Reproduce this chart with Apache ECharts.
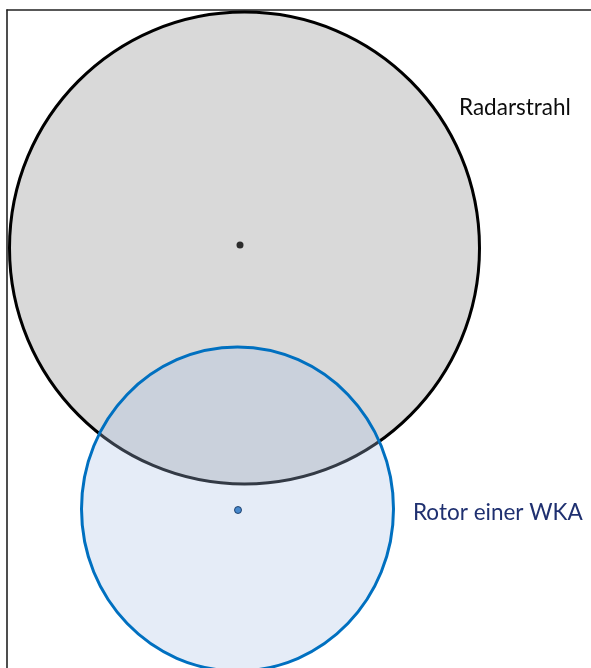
<!DOCTYPE html>
<html>
<head>
<meta charset="utf-8">
<script src="https://cdn.jsdelivr.net/npm/echarts@6/dist/echarts.min.js"></script>
<style>
  html, body { margin: 0; padding: 0; background: #fff; }
  #chart { width: 591px; height: 668px; }
</style>
</head>
<body>
<div id="chart"></div>
<script>
// Kreise: Radarstrahl und Rotor (Koordinaten im Bildmaßstab)
var shapeNames = ['Radarstrahl', 'Rotor einer WKA'];
var centerX = [244.5, 237.5];
var centerY = [248, 509];
var radiusX = [235, 156];
var radiusY = [236, 162];

// Mittelpunkte
var dotX = [240, 238];
var dotY = [245, 510];

// Beschriftungen
var labelX = [459, 413];
var labelY = [108, 513];

var fills = ['#d9d9d9', 'rgba(168,192,228,0.3)'];
var strokes = ['#000000', '#0070c0'];
var textColors = ['#0d0d0d', '#1f3070'];
var dotColors = ['#000000', '#1f6fc0'];

var chart = echarts.init(document.getElementById('chart'));

var shapeData = [];
for (var i = 0; i < shapeNames.length; i++) {
    shapeData.push([centerX[i], centerY[i], radiusX[i], radiusY[i]]);
}
var dotData = [];
for (var i = 0; i < dotX.length; i++) {
    dotData.push({ value: [dotX[i], dotY[i]], itemStyle: { color: dotColors[i], borderColor: i ? '#0a2a55' : '#000', borderWidth: i ? 1 : 0 } });
}
var labelData = [];
for (var i = 0; i < shapeNames.length; i++) {
    labelData.push([labelX[i], labelY[i], shapeNames[i]]);
}

var option = {
    animation: false,
    grid: { left: 7, top: 10, right: 0, bottom: 0 },
    xAxis: {
        type: 'value', min: 7, max: 591, position: 'top',
        axisLine: { show: true, onZero: false, lineStyle: { color: '#222', width: 1.6 } },
        axisTick: { show: false }, axisLabel: { show: false }, splitLine: { show: false }
    },
    yAxis: {
        type: 'value', min: 10, max: 668, inverse: true,
        axisLine: { show: true, onZero: false, lineStyle: { color: '#222', width: 1.6 } },
        axisTick: { show: false }, axisLabel: { show: false }, splitLine: { show: false }
    },
    series: [
        {
            type: 'custom',
            data: shapeData,
            clip: false,
            renderItem: function (params, api) {
                var c = api.coord([api.value(0), api.value(1)]);
                var s = api.size([api.value(2), api.value(3)]);
                var idx = params.dataIndex;
                return {
                    type: 'ellipse',
                    shape: { cx: c[0], cy: c[1], rx: s[0], ry: s[1] },
                    style: { fill: fills[idx], stroke: strokes[idx], lineWidth: 3 }
                };
            },
            z: 2
        },
        {
            type: 'scatter',
            data: dotData,
            symbolSize: 7,
            z: 3
        },
        {
            type: 'custom',
            data: labelData,
            clip: false,
            renderItem: function (params, api) {
                var c = api.coord([api.value(0), api.value(1)]);
                var idx = params.dataIndex;
                return {
                    type: 'text',
                    x: c[0], y: c[1],
                    style: {
                        text: shapeNames[idx],
                        fill: textColors[idx],
                        font: '22.5px Lato',
                        textAlign: 'left',
                        textVerticalAlign: 'middle'
                    }
                };
            },
            z: 4
        }
    ]
};
chart.setOption(option);
</script>
</body>
</html>
